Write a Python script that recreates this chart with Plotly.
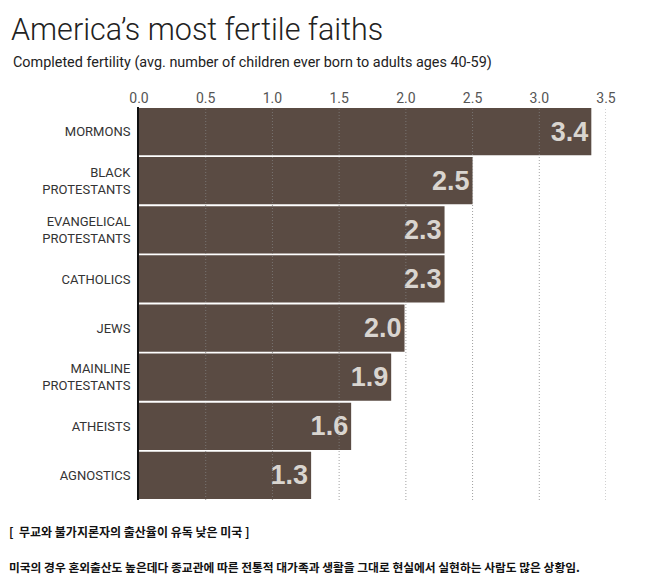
import plotly.graph_objects as go

# data
groups = ["MORMONS", "BLACK<br>PROTESTANTS", "EVANGELICAL<br>PROTESTANTS", "CATHOLICS",
          "JEWS", "MAINLINE<br>PROTESTANTS", "ATHEISTS", "AGNOSTICS"]
fertility = [3.39, 2.5, 2.29, 2.29, 1.99, 1.89, 1.59, 1.29]
bar_labels = ["3.4", "2.5", "2.3", "2.3", "2.0", "1.9", "1.6", "1.3"]
x_ticks = [0, 0.5, 1, 1.5, 2, 2.5, 3, 3.5]
x_tick_text = ["0.0", "0.5", "1.0", "1.5", "2.0", "2.5", "3.0", "3.5"]

title = "America’s most fertile faiths"
subtitle = "Completed fertility (avg. number of children ever born to adults ages 40-59)"
caption = "[  무교와 불가지론자의 출산율이 유독 낮은 미국 ]"
note = "미국의 경우 혼외출산도 높은데다 종교관에 따른 전통적 대가족과 생활을 그대로 현실에서 실현하는 사람도 많은 상황임."

narrow = "Liberation Sans Narrow, Arial Narrow, Roboto, sans-serif"

fig = go.Figure()
fig.add_trace(go.Bar(
    x=fertility, y=groups, orientation="h",
    marker=dict(color="#5a4b43", line=dict(width=0)),
    text=bar_labels, textposition="inside", insidetextanchor="end",
    textfont=dict(family="Liberation Sans", size=27, color="#d9d5d0", weight="bold"),
    cliponaxis=False, showlegend=False,
))

# dotted grid drawn over the bars, as in the original
for t in x_ticks[1:]:
    fig.add_vline(x=t, line=dict(color="rgba(130,130,130,0.75)", width=1, dash="1px,2px"), layer="above")

fig.update_xaxes(
    range=[0, 3.5], side="top", tickvals=x_ticks, ticktext=x_tick_text,
    showgrid=False, zeroline=False, showline=False, ticks="",
    tickfont=dict(family=narrow, size=14, color="#555555"),
)
fig.update_yaxes(
    autorange="reversed", showline=True, linecolor="#111111", linewidth=2,
    ticks="", ticklabelstandoff=4,
    tickfont=dict(family=narrow, size=13, color="#333333"),
)

# plot area: 467 x 393 px, top-left at (131, 99) in figure coords
pw, ph, L, T = 467, 393, 131, 99
fig.add_annotation(text=title, xref="paper", yref="paper", x=(1 - L) / pw, y=1 + (T - 41) / ph,
                   xanchor="left", yanchor="bottom", showarrow=False,
                   font=dict(family="Roboto", size=30.5, color="#222222", weight=300))
fig.add_annotation(text=subtitle, xref="paper", yref="paper", x=(3 - L) / pw, y=1 + (T - 65) / ph,
                   xanchor="left", yanchor="bottom", showarrow=False,
                   font=dict(family=narrow, size=14.4, color="#222222"))
fig.add_annotation(text=caption, xref="paper", yref="paper", x=(-1 - L) / pw, y=-(513 - T - ph) / ph,
                   xanchor="left", yanchor="top", showarrow=False,
                   font=dict(family="Noto Sans CJK KR", size=12, color="#111111", weight="bold"))
fig.add_annotation(text=note, xref="paper", yref="paper", x=(-1 - L) / pw, y=-(548 - T - ph) / ph,
                   xanchor="left", yanchor="top", showarrow=False,
                   font=dict(family="Noto Sans CJK KR", size=11.75, color="#111111", weight="bold"))

fig.update_layout(
    width=650, height=570, bargap=0.04,
    margin=dict(l=L, r=650 - L - pw, t=T, b=570 - T - ph),
    plot_bgcolor="white", paper_bgcolor="white",
)

fig.write_html("out.html")
